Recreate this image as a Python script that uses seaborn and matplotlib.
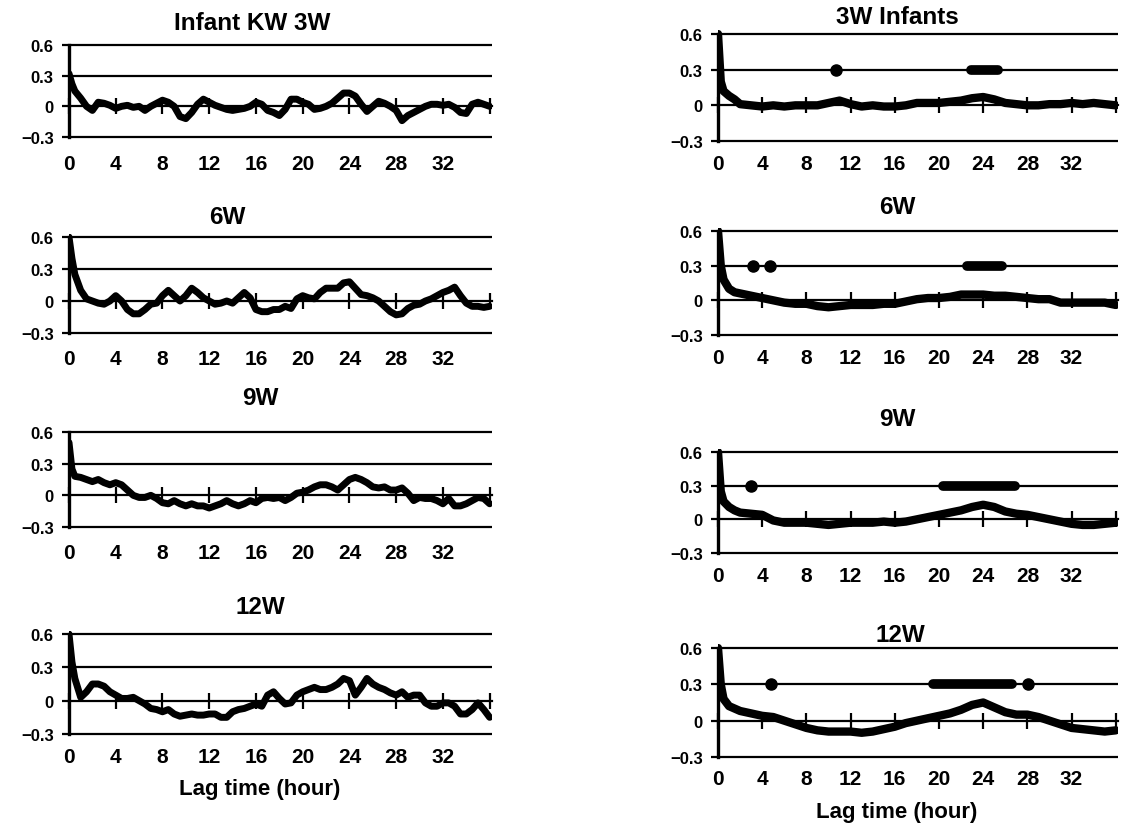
import numpy as np
import matplotlib
matplotlib.use("Agg")
import matplotlib.pyplot as plt
import seaborn as sns

# ---------------- data ----------------
LAG_LEFT = [0, 0.25] + list(np.arange(0.5, 36.01, 0.5))
LAG_RIGHT = [0, 0.25, 0.5, 1, 1.5] + list(np.arange(2, 36.01, 1.0))

TITLES_LEFT = ["Infant KW 3W", "6W", "9W", "12W"]
TITLES_RIGHT = ["3W Infants", "6W", "9W", "12W"]
X_LABEL = "Lag time (hour)"
X_TICKS = [0, 4, 8, 12, 16, 20, 24, 28, 32]
X_MARKS = [0, 4, 8, 12, 16, 20, 24, 28, 32, 36]
Y_TICKS = [-0.3, 0, 0.3, 0.6]
Y_TICK_LABELS = ["\u22120.3", "0", "0.3", "0.6"]
GRID_LEVELS = [-0.3, 0.3, 0.6]
SIG_LEVEL = 0.3

# Infant KW (left column)
KW_3W = [0.32, 0.22,
         0.15, 0.08, 0.00, -0.04, 0.04, 0.03, 0.01, -0.02,
         0.00, 0.01, -0.01, 0.00, -0.04, 0.00, 0.03, 0.06,
         0.04, 0.00, -0.10, -0.12, -0.06, 0.02, 0.07, 0.04,
         0.01, -0.01, -0.03, -0.04, -0.03, -0.02, 0.00, 0.04,
         0.02, -0.04, -0.06, -0.09, -0.03, 0.07, 0.07, 0.04,
         0.02, -0.03, -0.02, 0.00, 0.03, 0.08, 0.13, 0.13,
         0.10, 0.02, -0.05, 0.00, 0.05, 0.03, 0.00, -0.04,
         -0.14, -0.09, -0.06, -0.03, 0.00, 0.02, 0.02, 0.01,
         0.02, -0.01, -0.06, -0.07, 0.02, 0.04, 0.02, 0.00]
KW_6W = [0.60, 0.40,
         0.25, 0.10, 0.02, 0.00, -0.02, -0.03, 0.00, 0.05,
         0.00, -0.08, -0.12, -0.12, -0.08, -0.03, -0.02, 0.05,
         0.10, 0.05, 0.00, 0.05, 0.12, 0.08, 0.03, 0.00,
         -0.03, -0.02, 0.00, -0.02, 0.03, 0.08, 0.03, -0.08,
         -0.10, -0.10, -0.08, -0.08, -0.05, -0.07, 0.02, 0.05,
         0.03, 0.02, 0.08, 0.12, 0.12, 0.12, 0.17, 0.18,
         0.12, 0.06, 0.05, 0.03, 0.00, -0.05, -0.10, -0.13,
         -0.12, -0.07, -0.04, -0.03, 0.00, 0.02, 0.05, 0.08,
         0.10, 0.13, 0.05, -0.02, -0.05, -0.05, -0.06, -0.05]
KW_9W = [0.50, 0.25,
         0.18, 0.17, 0.15, 0.13, 0.15, 0.12, 0.10, 0.12,
         0.10, 0.05, 0.00, -0.02, -0.02, 0.00, -0.03, -0.07,
         -0.08, -0.05, -0.08, -0.10, -0.08, -0.10, -0.10, -0.12,
         -0.10, -0.08, -0.05, -0.08, -0.10, -0.08, -0.05, -0.07,
         -0.03, -0.02, -0.03, -0.02, -0.05, -0.02, 0.02, 0.03,
         0.05, 0.08, 0.10, 0.10, 0.08, 0.05, 0.10, 0.15,
         0.17, 0.15, 0.12, 0.08, 0.07, 0.08, 0.05, 0.05,
         0.07, 0.02, -0.05, -0.02, -0.03, -0.03, -0.05, -0.08,
         -0.03, -0.10, -0.10, -0.08, -0.05, -0.02, -0.03, -0.08]
KW_12W = [0.60, 0.35,
          0.20, 0.03, 0.08, 0.15, 0.15, 0.13, 0.08, 0.05,
          0.02, 0.02, 0.03, 0.00, -0.03, -0.07, -0.08, -0.10,
          -0.08, -0.12, -0.14, -0.13, -0.12, -0.13, -0.13, -0.12,
          -0.12, -0.15, -0.15, -0.10, -0.08, -0.07, -0.05, -0.03,
          -0.05, 0.05, 0.08, 0.02, -0.03, -0.02, 0.05, 0.08,
          0.10, 0.12, 0.10, 0.10, 0.12, 0.15, 0.20, 0.18,
          0.05, 0.12, 0.20, 0.15, 0.12, 0.10, 0.07, 0.05,
          0.08, 0.03, 0.05, 0.05, -0.02, -0.05, -0.05, -0.02,
          -0.02, -0.05, -0.12, -0.12, -0.08, -0.02, -0.08, -0.15]

# Group means (right column)
INF_3W = [0.60, 0.20, 0.12, 0.08, 0.05,
          0.01, 0.00, -0.01, 0.00, -0.01, 0.00, 0.00, 0.00, 0.02, 0.04,
          0.01, -0.01, 0.00, -0.01, -0.01, 0.00, 0.02, 0.02, 0.02, 0.03,
          0.04, 0.06, 0.07, 0.05, 0.02, 0.01, 0.00, 0.00, 0.01, 0.01,
          0.02, 0.01, 0.02, 0.01, 0.00]
INF_6W = [0.60, 0.30, 0.18, 0.10, 0.07,
          0.06, 0.04, 0.02, 0.00, -0.02, -0.03, -0.03, -0.05, -0.06, -0.05,
          -0.04, -0.04, -0.04, -0.03, -0.03, -0.01, 0.01, 0.02, 0.02, 0.03,
          0.05, 0.05, 0.05, 0.04, 0.04, 0.03, 0.02, 0.01, 0.01, -0.02,
          -0.02, -0.02, -0.02, -0.02, -0.04]
INF_9W = [0.60, 0.25, 0.16, 0.11, 0.08,
          0.06, 0.05, 0.04, -0.01, -0.03, -0.03, -0.03, -0.04, -0.05, -0.04,
          -0.03, -0.03, -0.03, -0.02, -0.03, -0.02, 0.00, 0.02, 0.04, 0.06,
          0.08, 0.11, 0.13, 0.11, 0.07, 0.05, 0.04, 0.02, 0.00, -0.02,
          -0.04, -0.05, -0.05, -0.04, -0.03]
INF_12W = [0.60, 0.30, 0.18, 0.12, 0.10,
           0.08, 0.06, 0.04, 0.03, 0.00, -0.03, -0.06, -0.08, -0.09, -0.09,
           -0.09, -0.10, -0.09, -0.07, -0.05, -0.02, 0.00, 0.02, 0.04, 0.06,
           0.09, 0.13, 0.15, 0.11, 0.07, 0.05, 0.05, 0.03, 0.00, -0.03,
           -0.06, -0.07, -0.08, -0.09, -0.08]

# significant lags (start, end) marked on the 0.3 line
SIG_3W = [(10.7, 10.7), (22.9, 25.3)]
SIG_6W = [(3.2, 3.2), (4.7, 4.7), (22.5, 25.7)]
SIG_9W = [(3.0, 3.0), (20.4, 26.9)]
SIG_12W = [(4.8, 4.8), (19.5, 26.6), (28.1, 28.1)]

LEFT_SERIES = [KW_3W, KW_6W, KW_9W, KW_12W]
RIGHT_SERIES = [INF_3W, INF_6W, INF_9W, INF_12W]
RIGHT_SIG = [SIG_3W, SIG_6W, SIG_9W, SIG_12W]

# ---------------- style ----------------
sns.set_theme(style="white")
plt.rcParams["font.family"] = ["Liberation Sans", "DejaVu Sans"]
plt.rcParams["font.weight"] = "bold"
plt.rcParams["text.color"] = "black"
plt.rcParams["xtick.color"] = "black"
plt.rcParams["ytick.color"] = "black"
plt.rcParams["axes.labelcolor"] = "black"

W, H = 1140, 829
fig = plt.figure(figsize=(W / 100, H / 100), dpi=100)

YMIN, YMAX = -0.33, 0.63


def make_axes(xl, xr, y06, ym03):
    scale = (ym03 - y06) / 0.9
    top = y06 - (YMAX - 0.6) * scale
    bot = ym03 + (-0.3 - YMIN) * scale
    return fig.add_axes([xl / W, 1 - bot / H, (xr - xl) / W, (bot - top) / H])


def style_panel(ax, lab_pad):
    ax.set_xlim(0, 36.2)
    ax.set_ylim(YMIN, YMAX)
    for s in ["top", "right"]:
        ax.spines[s].set_visible(False)
    ax.spines["left"].set_color("black")
    ax.spines["left"].set_linewidth(2.4)
    ax.spines["left"].set_bounds(-0.3, 0.6)
    ax.spines["bottom"].set_position(("data", 0))
    ax.spines["bottom"].set_color("black")
    ax.spines["bottom"].set_linewidth(1.6)
    ax.set_xticks(X_MARKS)
    ax.tick_params(axis="x", direction="inout", length=11, width=1.6,
                   color="black", labelbottom=False, bottom=True)
    ax.set_yticks(Y_TICKS)
    ax.set_yticklabels(Y_TICK_LABELS, fontsize=12, fontweight="bold",
                       color="black")
    ax.tick_params(axis="y", direction="out", length=5, width=1.6,
                   color="black", pad=6, left=True)
    for lv in GRID_LEVELS:
        ax.axhline(lv, color="black", lw=1.6, zorder=1)
    sec = ax.secondary_xaxis("bottom")
    sec.set_xticks(X_TICKS)
    sec.set_xticklabels([str(t) for t in X_TICKS], fontsize=15,
                        fontweight="bold", color="black")
    sec.tick_params(length=0, pad=lab_pad)
    sec.spines["bottom"].set_visible(False)
    ax.set_xlabel("")
    ax.set_ylabel("")


LEFT_X = (69, 492)
RIGHT_X = (718, 1118)
LEFT_ROWS = [(46, 138), (238, 334), (433, 528), (635, 735)]
RIGHT_ROWS = [(35, 142), (232, 336), (453, 554), (649, 758)]
LEFT_TITLE_POS = [(252, 23), (227, 217), (260, 399), (260, 608)]
RIGHT_TITLE_POS = [(897, 17), (897, 207), (897, 420), (900, 635)]
LEFT_PADS = [10, 9, 9, 7]
RIGHT_PADS = [7, 7, 7, 6]

for i in range(4):
    ax = make_axes(LEFT_X[0], LEFT_X[1], *LEFT_ROWS[i])
    sns.lineplot(x=LAG_LEFT, y=LEFT_SERIES[i], ax=ax, color="black",
                 lw=5, zorder=3)
    style_panel(ax, LEFT_PADS[i])
    tx, ty = LEFT_TITLE_POS[i]
    fig.text(tx / W, 1 - ty / H, TITLES_LEFT[i], ha="center", va="center",
             fontsize=17.5, fontweight="bold", color="black")

    ax = make_axes(RIGHT_X[0], RIGHT_X[1], *RIGHT_ROWS[i])
    sns.lineplot(x=LAG_RIGHT, y=RIGHT_SERIES[i], ax=ax, color="black",
                 lw=6, zorder=3)
    for a, b in RIGHT_SIG[i]:
        if a == b:
            ax.plot([a], [SIG_LEVEL], color="black", marker="o",
                    markersize=8, lw=0, zorder=4)
        else:
            ax.plot([a, b], [SIG_LEVEL, SIG_LEVEL], color="black", lw=7,
                    solid_capstyle="round", zorder=4)
    style_panel(ax, RIGHT_PADS[i])
    tx, ty = RIGHT_TITLE_POS[i]
    fig.text(tx / W, 1 - ty / H, TITLES_RIGHT[i], ha="center", va="center",
             fontsize=17.5, fontweight="bold", color="black")

fig.text(260 / W, 1 - 790 / H, X_LABEL, ha="center", va="center",
         fontsize=16, fontweight="bold", color="black")
fig.text(897 / W, 1 - 813 / H, X_LABEL, ha="center", va="center",
         fontsize=16, fontweight="bold", color="black")

fig.savefig("out.png", dpi=100, facecolor="white")
